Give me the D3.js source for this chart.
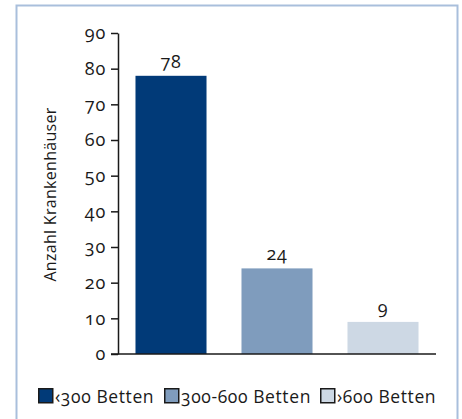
<!DOCTYPE html>
<html>
<head>
<meta charset="utf-8">
<script src="https://cdn.jsdelivr.net/npm/d3@7"></script>
<style>
  html, body { margin: 0; padding: 0; background: #fff; }
  svg text { font-family: "Open Sans", "Lato", sans-serif; font-feature-settings: "onum" 1; fill: #1a1a1a; }
</style>
</head>
<body>
<svg id="chart" width="462" height="419"></svg>
<script>
// Hospitals by bed count
const categories = ["< 300 Betten", "300-600 Betten", "> 600 Betten"];
const legendLabels = ["‹300 Betten", "300-600 Betten", "›600 Betten"];
const values = [78, 24, 9];
const colors = ["#013a78", "#7f9cbd", "#cdd8e4"];
const yTicks = [0, 10, 20, 30, 40, 50, 60, 70, 80, 90];
const yTitle = "Anzahl Krankenhäuser";

const svg = d3.select("#chart");

// outer frame
svg.append("rect")
  .attr("x", 16.5).attr("y", 5.5)
  .attr("width", 441).attr("height", 420)
  .attr("fill", "none")
  .attr("stroke", "#a9bfdc")
  .attr("stroke-width", 2);

const x = d3.scaleBand()
  .domain(categories)
  .range([118, 436])
  .paddingInner(0.33)
  .paddingOuter(0.165);

const y = d3.scaleLinear().domain([0, 90]).range([354, 33]);

// bars
svg.selectAll("rect.bar")
  .data(values)
  .join("rect")
  .attr("class", "bar")
  .attr("x", (d, i) => x(categories[i]))
  .attr("y", d => y(d))
  .attr("width", x.bandwidth())
  .attr("height", d => y(0) - y(d))
  .attr("fill", (d, i) => colors[i]);

// value labels
svg.selectAll("text.val")
  .data(values)
  .join("text")
  .attr("class", "val")
  .attr("x", (d, i) => x(categories[i]) + x.bandwidth() / 2)
  .attr("y", d => y(d) - 8)
  .attr("text-anchor", "middle")
  .attr("font-size", 18)
  .attr("letter-spacing", 0.8)
  .text(d => d);

// y axis
const yAxis = svg.append("g")
  .attr("transform", "translate(118,0)")
  .call(d3.axisLeft(y).tickValues(yTicks).tickSize(7).tickSizeOuter(0).tickPadding(5));
yAxis.select(".domain").attr("stroke", "#1a1a1a").attr("stroke-width", 1.5);
yAxis.selectAll(".tick line").attr("stroke", "#1a1a1a").attr("stroke-width", 1.5);
yAxis.selectAll(".tick text")
  .attr("font-size", 18)
  .attr("letter-spacing", 0.8)
  .attr("font-family", null)
  .attr("fill", "#1a1a1a");

// x baseline
svg.append("line")
  .attr("x1", 111).attr("x2", 436)
  .attr("y1", y(0)).attr("y2", y(0))
  .attr("stroke", "#1a1a1a").attr("stroke-width", 1.5);

// y title
svg.append("text")
  .attr("transform", `translate(56,${(y(0) + y(90)) / 2 + 1}) rotate(-90)`)
  .attr("text-anchor", "middle")
  .attr("font-size", 16)
  .attr("letter-spacing", 0.3)
  .text(yTitle);

// legend
const legendX = [38, 164, 320];
const lg = svg.selectAll("g.leg")
  .data(legendLabels)
  .join("g")
  .attr("class", "leg")
  .attr("transform", (d, i) => `translate(${legendX[i]},388)`);
lg.append("rect")
  .attr("x", 0.75).attr("y", 0.75)
  .attr("width", 14).attr("height", 14)
  .attr("fill", (d, i) => colors[i])
  .attr("stroke", "#1a1a1a")
  .attr("stroke-width", 1.5);
lg.append("text")
  .attr("x", 17)
  .attr("y", 14.5)
  .attr("font-size", 17.5)
  .attr("letter-spacing", 0.6)
  .text(d => d);
</script>
</body>
</html>
